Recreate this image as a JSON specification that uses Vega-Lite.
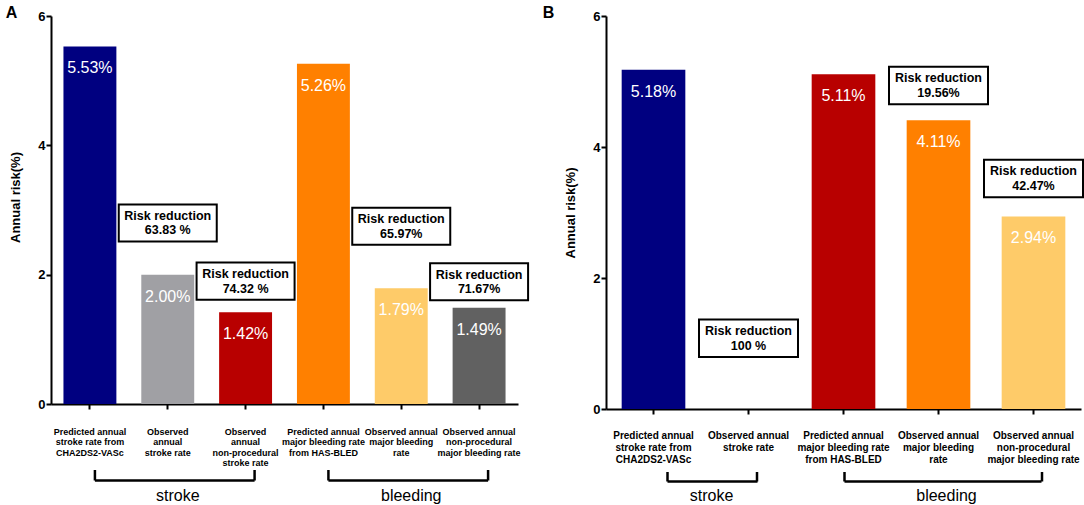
{
  "$schema": "https://vega.github.io/schema/vega-lite/v6.json",
  "padding": {"left": 5, "top": 5, "right": 2, "bottom": 0},
  "config": {"view": {"stroke": null}, "font": "Liberation Sans", "axis": {"grid": false}},
  "spacing": 9,
  "resolve": {"scale": {"color": "independent", "x": "independent", "y": "independent"}},
  "datasets": {
    "barsA": [
      {"cat": "Predicted annual|stroke rate from|CHA2DS2-VASc", "y": 5.53, "label": "5.53%"},
      {"cat": "Observed|annual|stroke rate", "y": 2.00, "label": "2.00%"},
      {"cat": "Observed|annual|non-procedural|stroke rate", "y": 1.42, "label": "1.42%"},
      {"cat": "Predicted annual|major bleeding rate|from HAS-BLED", "y": 5.26, "label": "5.26%"},
      {"cat": "Observed annual|major bleeding|rate", "y": 1.79, "label": "1.79%"},
      {"cat": "Observed annual|non-procedural|major bleeding rate", "y": 1.49, "label": "1.49%"}
    ],
    "boxesA": [
      {"cat": "Observed|annual|stroke rate", "y": 2.80, "text": "Risk reduction\n63.83 %"},
      {"cat": "Observed|annual|non-procedural|stroke rate", "y": 1.90, "text": "Risk reduction\n74.32 %"},
      {"cat": "Observed annual|major bleeding|rate", "y": 2.75, "text": "Risk reduction\n65.97%"},
      {"cat": "Observed annual|non-procedural|major bleeding rate", "y": 1.89, "text": "Risk reduction\n71.67%"}
    ],
    "bracketsA": [
      {"group": "stroke", "cat": "Predicted annual|stroke rate from|CHA2DS2-VASc", "cat2": "Observed|annual|non-procedural|stroke rate"},
      {"group": "bleeding", "cat": "Predicted annual|major bleeding rate|from HAS-BLED", "cat2": "Observed annual|non-procedural|major bleeding rate"}
    ],
    "endsA": [
      {"group": "stroke", "cat": "Observed|annual|non-procedural|stroke rate"},
      {"group": "bleeding", "cat": "Observed annual|non-procedural|major bleeding rate"}
    ],
    "groupsA": [
      {"group": "stroke", "cat": "Observed|annual|stroke rate"},
      {"group": "bleeding", "cat": "Observed annual|major bleeding|rate"}
    ],
    "barsB": [
      {"cat": "Predicted annual|stroke rate from|CHA2DS2-VASc", "y": 5.18, "label": "5.18%"},
      {"cat": "Observed annual|stroke rate", "y": 0, "label": ""},
      {"cat": "Predicted annual|major bleeding rate|from HAS-BLED", "y": 5.11, "label": "5.11%"},
      {"cat": "Observed annual|major bleeding|rate", "y": 4.41, "label": "4.11%"},
      {"cat": "Observed annual|non-procedural|major bleeding rate", "y": 2.94, "label": "2.94%"}
    ],
    "boxesB": [
      {"cat": "Observed annual|stroke rate", "y": 1.08, "text": "Risk reduction\n100 %"},
      {"cat": "Observed annual|major bleeding|rate", "y": 4.94, "text": "Risk reduction\n19.56%"},
      {"cat": "Observed annual|non-procedural|major bleeding rate", "y": 3.52, "text": "Risk reduction\n42.47%"}
    ],
    "bracketsB": [
      {"group": "stroke", "cat": "Predicted annual|stroke rate from|CHA2DS2-VASc", "cat2": "Observed annual|stroke rate"},
      {"group": "bleeding", "cat": "Predicted annual|major bleeding rate|from HAS-BLED", "cat2": "Observed annual|non-procedural|major bleeding rate"}
    ],
    "endsB": [
      {"group": "stroke", "cat": "Observed annual|stroke rate"},
      {"group": "bleeding", "cat": "Observed annual|non-procedural|major bleeding rate"}
    ],
    "groupsB": [
      {"group": "stroke", "cat": "Observed annual|stroke rate"},
      {"group": "bleeding", "cat": "Observed annual|major bleeding|rate"}
    ]
  },
  "hconcat": [
    {
      "spacing": 0,
      "resolve": {"scale": {"y": "independent"}},
      "vconcat": [
        {
          "width": 467,
          "height": 388,
          "title": {"text": "A", "anchor": "start", "frame": "bounds", "fontSize": 16, "fontWeight": "bold", "font": "Liberation Sans", "color": "black", "baseline": "alphabetic", "offset": -24, "dx": -4},
          "encoding": {
            "x": {
              "field": "cat", "type": "nominal", "sort": null,
              "scale": {
                "domain": ["Predicted annual|stroke rate from|CHA2DS2-VASc", "Observed|annual|stroke rate", "Observed|annual|non-procedural|stroke rate", "Predicted annual|major bleeding rate|from HAS-BLED", "Observed annual|major bleeding|rate", "Observed annual|non-procedural|major bleeding rate"],
                "paddingInner": 0.32, "paddingOuter": 0.16
              },
              "axis": {
                "title": null, "labelExpr": "split(datum.label, '|')", "labelAngle": 0,
                "labelFont": "Liberation Sans", "labelFontSize": 9, "labelFontWeight": "bold", "labelColor": "black",
                "labelLineHeight": 10.5, "labelBaseline": "top", "labelPadding": 18, "labelLimit": 300, "labelOverlap": false,
                "tickSize": 5, "tickWidth": 2, "tickColor": "black", "domain": true, "domainColor": "black", "domainWidth": 2
              }
            },
            "y": {
              "field": "y", "type": "quantitative", "scale": {"domain": [0, 6], "nice": false},
              "axis": {
                "title": "Annual risk(%)", "titleFont": "Liberation Sans", "titleFontSize": 13, "titleFontWeight": "bold", "titleColor": "black", "titlePadding": 15, "titleY": 181,
                "values": [0, 2, 4, 6], "labelFont": "Liberation Sans", "labelFontSize": 13, "labelFontWeight": "bold", "labelColor": "black", "labelPadding": 1,
                "tickSize": 5, "tickWidth": 2, "tickColor": "black", "domain": true, "domainColor": "black", "domainWidth": 2
              }
            }
          },
          "layer": [
            {
              "data": {"name": "barsA"},
              "mark": {"type": "bar"},
              "encoding": {
                "color": {
                  "field": "cat", "type": "nominal", "legend": null,
                  "scale": {
                    "domain": ["Predicted annual|stroke rate from|CHA2DS2-VASc", "Observed|annual|stroke rate", "Observed|annual|non-procedural|stroke rate", "Predicted annual|major bleeding rate|from HAS-BLED", "Observed annual|major bleeding|rate", "Observed annual|non-procedural|major bleeding rate"],
                    "range": ["#000080", "#a0a0a4", "#b80000", "#ff8000", "#fecb69", "#616161"]
                  }
                }
              }
            },
            {
              "data": {"name": "barsA"},
              "mark": {"type": "text", "color": "white", "fontSize": 16, "dy": 22, "baseline": "middle", "font": "Liberation Sans"},
              "encoding": {"text": {"field": "label"}}
            },
            {
              "data": {"name": "boxesA"},
              "mark": {"type": "point", "shape": "M-1,-0.378H1V0.378H-1Z", "size": 9604, "filled": true, "fill": "white", "stroke": "black", "strokeWidth": 2, "opacity": 1}
            },
            {
              "data": {"name": "boxesA"},
              "mark": {"type": "text", "lineBreak": "\n", "fontSize": 12.5, "fontWeight": "bold", "lineHeight": 14.5, "baseline": "middle", "dy": -7, "color": "black", "font": "Liberation Sans"},
              "encoding": {"text": {"field": "text"}}
            }
          ]
        },
        {
          "width": 467,
          "height": 38,
          "encoding": {
            "x": {
              "field": "cat", "type": "nominal", "sort": null,
              "scale": {
                "domain": ["Predicted annual|stroke rate from|CHA2DS2-VASc", "Observed|annual|stroke rate", "Observed|annual|non-procedural|stroke rate", "Predicted annual|major bleeding rate|from HAS-BLED", "Observed annual|major bleeding|rate", "Observed annual|non-procedural|major bleeding rate"],
                "paddingInner": 0.32, "paddingOuter": 0.16
              },
              "axis": null
            }
          },
          "layer": [
            {
              "data": {"name": "bracketsA"},
              "mark": {"type": "rule", "strokeWidth": 2.5, "color": "black", "xOffset": 5, "x2Offset": 9},
              "encoding": {
                "x2": {"field": "cat2"},
                "y": {"datum": 11.5, "type": "quantitative", "scale": {"domain": [0, 38], "reverse": true, "nice": false, "zero": false}, "axis": null}
              }
            },
            {
              "data": {"name": "bracketsA"},
              "mark": {"type": "rule", "strokeWidth": 2.5, "color": "black", "xOffset": 5},
              "encoding": {
                "y": {"datum": 1, "type": "quantitative", "scale": {"domain": [0, 38], "reverse": true, "nice": false, "zero": false}, "axis": null},
                "y2": {"datum": 11.5}
              }
            },
            {
              "data": {"name": "endsA"},
              "mark": {"type": "rule", "strokeWidth": 2.5, "color": "black", "xOffset": 9},
              "encoding": {
                "y": {"datum": 1, "type": "quantitative", "scale": {"domain": [0, 38], "reverse": true, "nice": false, "zero": false}, "axis": null},
                "y2": {"datum": 11.5}
              }
            },
            {
              "data": {"name": "groupsA"},
              "mark": {"type": "text", "fontSize": 16, "baseline": "alphabetic", "color": "black", "font": "Liberation Sans", "dx": 10},
              "encoding": {
                "y": {"datum": 32, "type": "quantitative", "scale": {"domain": [0, 38], "reverse": true, "nice": false, "zero": false}, "axis": null},
                "text": {"field": "group"}
              }
            }
          ]
        }
      ]
    },
    {
      "spacing": 0,
      "resolve": {"scale": {"y": "independent"}},
      "vconcat": [
        {
          "width": 475,
          "height": 393,
          "title": {"text": "B", "anchor": "start", "frame": "bounds", "fontSize": 16, "fontWeight": "bold", "font": "Liberation Sans", "color": "black", "baseline": "alphabetic", "offset": -24, "dx": -22},
          "encoding": {
            "x": {
              "field": "cat", "type": "nominal", "sort": null,
              "scale": {
                "domain": ["Predicted annual|stroke rate from|CHA2DS2-VASc", "Observed annual|stroke rate", "Predicted annual|major bleeding rate|from HAS-BLED", "Observed annual|major bleeding|rate", "Observed annual|non-procedural|major bleeding rate"],
                "paddingInner": 0.33, "paddingOuter": 0.165
              },
              "axis": {
                "title": null, "labelExpr": "split(datum.label, '|')", "labelAngle": 0,
                "labelFont": "Liberation Sans", "labelFontSize": 10, "labelFontWeight": "bold", "labelColor": "black",
                "labelLineHeight": 12, "labelBaseline": "top", "labelPadding": 16, "labelLimit": 300, "labelOverlap": false,
                "tickSize": 5, "tickWidth": 2, "tickColor": "black", "domain": true, "domainColor": "black", "domainWidth": 2
              }
            },
            "y": {
              "field": "y", "type": "quantitative", "scale": {"domain": [0, 6], "nice": false},
              "axis": {
                "title": "Annual risk(%)", "titleFont": "Liberation Sans", "titleFontSize": 13, "titleFontWeight": "bold", "titleColor": "black", "titlePadding": 15,
                "values": [0, 2, 4, 6], "labelFont": "Liberation Sans", "labelFontSize": 13, "labelFontWeight": "bold", "labelColor": "black", "labelPadding": 1,
                "tickSize": 5, "tickWidth": 2, "tickColor": "black", "domain": true, "domainColor": "black", "domainWidth": 2
              }
            }
          },
          "layer": [
            {
              "data": {"name": "barsB"},
              "mark": {"type": "bar"},
              "encoding": {
                "color": {
                  "field": "cat", "type": "nominal", "legend": null,
                  "scale": {
                    "domain": ["Predicted annual|stroke rate from|CHA2DS2-VASc", "Observed annual|stroke rate", "Predicted annual|major bleeding rate|from HAS-BLED", "Observed annual|major bleeding|rate", "Observed annual|non-procedural|major bleeding rate"],
                    "range": ["#000080", "#a0a0a4", "#b80000", "#ff8000", "#fecb69"]
                  }
                }
              }
            },
            {
              "data": {"name": "barsB"},
              "mark": {"type": "text", "color": "white", "fontSize": 16, "dy": 22, "baseline": "middle", "font": "Liberation Sans"},
              "encoding": {"text": {"field": "label"}}
            },
            {
              "data": {"name": "boxesB"},
              "mark": {"type": "point", "shape": "M-1,-0.378H1V0.378H-1Z", "size": 9801, "filled": true, "fill": "white", "stroke": "black", "strokeWidth": 2, "opacity": 1}
            },
            {
              "data": {"name": "boxesB"},
              "mark": {"type": "text", "lineBreak": "\n", "fontSize": 12.5, "fontWeight": "bold", "lineHeight": 14.5, "baseline": "middle", "dy": -7, "color": "black", "font": "Liberation Sans"},
              "encoding": {"text": {"field": "text"}}
            }
          ]
        },
        {
          "width": 475,
          "height": 40,
          "encoding": {
            "x": {
              "field": "cat", "type": "nominal", "sort": null,
              "scale": {
                "domain": ["Predicted annual|stroke rate from|CHA2DS2-VASc", "Observed annual|stroke rate", "Predicted annual|major bleeding rate|from HAS-BLED", "Observed annual|major bleeding|rate", "Observed annual|non-procedural|major bleeding rate"],
                "paddingInner": 0.33, "paddingOuter": 0.165
              },
              "axis": null
            }
          },
          "layer": [
            {
              "data": {"name": "bracketsB"},
              "transform": [{"filter": "datum.group === 'stroke'"}],
              "mark": {"type": "rule", "strokeWidth": 2.5, "color": "black", "xOffset": 14, "x2Offset": 9},
              "encoding": {
                "x2": {"field": "cat2"},
                "y": {"datum": 17.5, "type": "quantitative", "scale": {"domain": [0, 40], "reverse": true, "nice": false, "zero": false}, "axis": null}
              }
            },
            {
              "data": {"name": "bracketsB"},
              "transform": [{"filter": "datum.group === 'bleeding'"}],
              "mark": {"type": "rule", "strokeWidth": 2.5, "color": "black", "xOffset": 1, "x2Offset": 8},
              "encoding": {
                "x2": {"field": "cat2"},
                "y": {"datum": 17.5, "type": "quantitative", "scale": {"domain": [0, 40], "reverse": true, "nice": false, "zero": false}, "axis": null}
              }
            },
            {
              "data": {"name": "bracketsB"},
              "transform": [{"filter": "datum.group === 'stroke'"}],
              "mark": {"type": "rule", "strokeWidth": 2.5, "color": "black", "xOffset": 14},
              "encoding": {
                "y": {"datum": 8, "type": "quantitative", "scale": {"domain": [0, 40], "reverse": true, "nice": false, "zero": false}, "axis": null},
                "y2": {"datum": 17.5}
              }
            },
            {
              "data": {"name": "bracketsB"},
              "transform": [{"filter": "datum.group === 'bleeding'"}],
              "mark": {"type": "rule", "strokeWidth": 2.5, "color": "black", "xOffset": 1},
              "encoding": {
                "y": {"datum": 8, "type": "quantitative", "scale": {"domain": [0, 40], "reverse": true, "nice": false, "zero": false}, "axis": null},
                "y2": {"datum": 17.5}
              }
            },
            {
              "data": {"name": "endsB"},
              "mark": {"type": "rule", "strokeWidth": 2.5, "color": "black", "xOffset": 8.5},
              "encoding": {
                "y": {"datum": 8, "type": "quantitative", "scale": {"domain": [0, 40], "reverse": true, "nice": false, "zero": false}, "axis": null},
                "y2": {"datum": 17.5}
              }
            },
            {
              "data": {"name": "groupsB"},
              "transform": [{"filter": "datum.group === 'stroke'"}],
              "mark": {"type": "text", "fontSize": 16, "baseline": "alphabetic", "color": "black", "font": "Liberation Sans", "dx": -37},
              "encoding": {
                "y": {"datum": 36.5, "type": "quantitative", "scale": {"domain": [0, 40], "reverse": true, "nice": false, "zero": false}, "axis": null},
                "text": {"field": "group"}
              }
            },
            {
              "data": {"name": "groupsB"},
              "transform": [{"filter": "datum.group === 'bleeding'"}],
              "mark": {"type": "text", "fontSize": 16, "baseline": "alphabetic", "color": "black", "font": "Liberation Sans", "dx": 8},
              "encoding": {
                "y": {"datum": 36.5, "type": "quantitative", "scale": {"domain": [0, 40], "reverse": true, "nice": false, "zero": false}, "axis": null},
                "text": {"field": "group"}
              }
            }
          ]
        }
      ]
    }
  ]
}
